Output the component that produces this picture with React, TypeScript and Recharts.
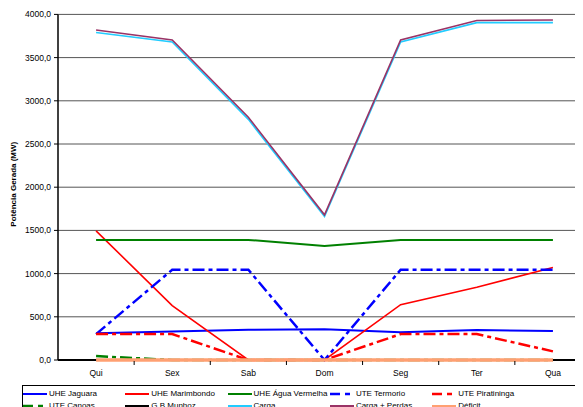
import { LineChart, Line, XAxis, YAxis, CartesianGrid } from "recharts";

const DIAS = ["Qui", "Sex", "Sab", "Dom", "Seg", "Ter", "Qua"];
const uheJaguara = [310, 330, 350, 355, 322, 348, 335];
const uheMarimbondo = [1495, 630, 0, 0, 640, 842, 1070];
const uheAguaVermelha = [1390, 1390, 1390, 1320, 1390, 1390, 1390];
const uteTermorio = [300, 1045, 1045, 0, 1045, 1045, 1045];
const utePiratininga = [300, 300, 0, 0, 300, 300, 100];
const uteCanoas = [45, 0, 0, 0, 0, 0, 0];
const gbMunhoz = [0, 0, 0, 0, 0, 0, 0];
const carga = [3790, 3680, 2785, 1660, 3680, 3905, 3905];
const cargaPerdas = [3820, 3705, 2810, 1680, 3705, 3930, 3935];
const deficit = [0, 0, 0, 0, 0, 0, 0];
const Y_TICKS = [0, 500, 1000, 1500, 2000, 2500, 3000, 3500, 4000];

const data = DIAS.map((dia, i) => ({
  dia,
  jaguara: uheJaguara[i],
  marimbondo: uheMarimbondo[i],
  aguaVermelha: uheAguaVermelha[i],
  termorio: uteTermorio[i],
  piratininga: utePiratininga[i],
  canoas: uteCanoas[i],
  munhoz: gbMunhoz[i],
  carga: carga[i],
  cargaPerdas: cargaPerdas[i],
  deficit: deficit[i],
}));

const DASH_DOT = "12 4 4 4";

const series = [
  { key: "jaguara", name: "UHE Jaguara", color: "#0000FF", width: 2 },
  { key: "marimbondo", name: "UHE Marimbondo", color: "#FF0000", width: 1.6 },
  { key: "aguaVermelha", name: "UHE Água Vermelha", color: "#008000", width: 2 },
  { key: "termorio", name: "UTE Termorio", color: "#0000FF", width: 2.5, dash: DASH_DOT },
  { key: "piratininga", name: "UTE Piratininga", color: "#FF0000", width: 2.5, dash: DASH_DOT },
  { key: "canoas", name: "UTE Canoas", color: "#008000", width: 2.5, dash: DASH_DOT },
  { key: "munhoz", name: "G.B Munhoz", color: "#000000", width: 2 },
  { key: "carga", name: "Carga", color: "#22CCFF", width: 1.6 },
  { key: "cargaPerdas", name: "Carga + Perdas", color: "#993366", width: 1.6 },
  { key: "deficit", name: "Déficit", color: "#FFA072", width: 3.5 },
];

const W = 600;
const H = 420;
const M = { top: 6.4, right: 17, left: 0, bottom: 48 };
const Y_W = 50;
const X_H = 20;
const PLOT_BOTTOM = H - M.bottom - X_H;
const STEP = (W - M.left - M.right - Y_W) / DIAS.length;
const FONT = '"Liberation Sans", Arial, sans-serif';

const fmt = (v: number) => v.toFixed(1).replace(".", ",");

// horizontal grid; the zero line doubles as the category axis so the series sit on top of it
function GridLine({ x1, x2, y1, y2 }: any) {
  const base = Math.abs(y1 - PLOT_BOTTOM) < 0.5;
  return (
    <line
      x1={x1}
      x2={x2}
      y1={y1}
      y2={y2}
      stroke={base ? "#000" : "#555"}
      strokeWidth={base ? 2 : 1}
    />
  );
}

function XTick({ x, y, payload, index }: any) {
  return (
    <g>
      <text x={x} y={y + 16} textAnchor="middle" fontSize={8.5} fontFamily={FONT} fill="#000">
        {payload.value}
      </text>
      {index > 0 && (
        <line x1={x - STEP / 2} x2={x - STEP / 2} y1={y + 1} y2={y + 5} stroke="#000" strokeWidth={1} />
      )}
    </g>
  );
}

function YLabel({ viewBox }: any) {
  const cy = viewBox.y + viewBox.height / 2 - 3;
  return (
    <text
      x={6}
      y={cy}
      transform={`rotate(-90, 6, ${cy})`}
      textAnchor="middle"
      dominantBaseline="central"
      fontSize={8}
      fontWeight="bold"
      fontFamily={FONT}
      fill="#000"
    >
      Potência Gerada (MW)
    </text>
  );
}

function LegendBox() {
  return (
    <div
      style={{
        position: "absolute",
        left: 14,
        top: 377,
        width: 560,
        height: 40,
        border: "1px solid #000",
        background: "#fff",
        fontFamily: FONT,
        fontSize: 8,
        color: "#000",
      }}
    >
      {series.map((s, i) => (
        <div
          key={s.key}
          style={{
            position: "absolute",
            left: (i % 5) * 102.3,
            top: Math.floor(i / 5) * 12.3 + 2,
            height: 11,
            display: "flex",
            alignItems: "center",
            whiteSpace: "nowrap",
          }}
        >
          <svg width={24} height={6} style={{ marginRight: 2 }}>
            <line
              x1={0}
              x2={24}
              y1={3}
              y2={3}
              stroke={s.color}
              strokeWidth={s.dash ? 2.5 : 2}
              strokeDasharray={s.dash ? "10 5 5 5" : undefined}
            />
          </svg>
          <span>{s.name}</span>
        </div>
      ))}
    </div>
  );
}

export default function App() {
  return (
    <div style={{ position: "relative", width: 575, height: 399, overflow: "hidden", background: "#fff" }}>
      <LineChart width={W} height={H} data={data} margin={M}>
        <CartesianGrid vertical={false} horizontal={GridLine} />
        <XAxis
          dataKey="dia"
          height={X_H}
          padding={{ left: STEP / 2, right: STEP / 2 }}
          tickLine={false}
          tickSize={0}
          tickMargin={0}
          axisLine={false}
          tick={XTick}
          interval={0}
        />
        <YAxis
          width={Y_W}
          domain={[0, 4000]}
          ticks={Y_TICKS}
          tickFormatter={fmt}
          tickSize={4}
          tickMargin={3}
          axisLine={{ stroke: "#000", strokeWidth: 1.5 }}
          tickLine={{ stroke: "#000" }}
          tick={{ fontSize: 8.5, fontFamily: FONT, fill: "#000" }}
          label={YLabel}
        />
        {series.map((s) => (
          <Line
            key={s.key}
            type="linear"
            dataKey={s.key}
            name={s.name}
            stroke={s.color}
            strokeWidth={s.width}
            strokeDasharray={s.dash}
            dot={false}
            activeDot={false}
            isAnimationActive={false}
          />
        ))}
      </LineChart>
      <LegendBox />
    </div>
  );
}
